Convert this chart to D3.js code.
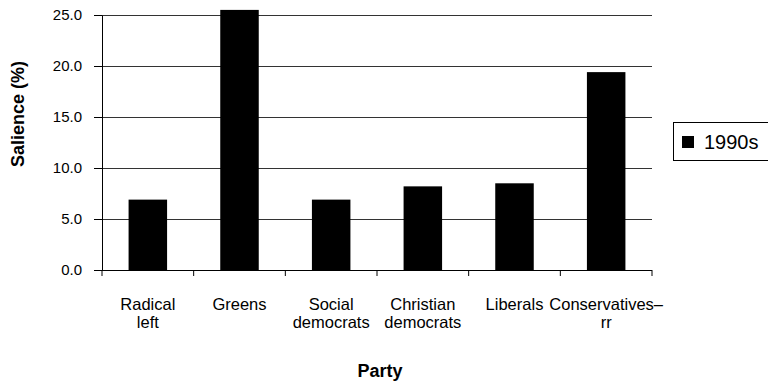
<!DOCTYPE html>
<html>
<head>
<meta charset="utf-8">
<script src="https://cdn.jsdelivr.net/npm/d3@7"></script>
<style>
  body { margin: 0; background: #fff; }
  svg { font-family: "Liberation Sans", Arial, sans-serif; }
</style>
</head>
<body>
<div id="chart"></div>
<script>
// data
var parties = ["Radical left", "Greens", "Social democrats", "Christian democrats", "Liberals", "Conservatives–rr"];
var labelLines = [["Radical", "left"], ["Greens"], ["Social", "democrats"], ["Christian", "democrats"], ["Liberals"], ["Conservatives–", "rr"]];
var salience1990s = [6.9, 25.5, 6.9, 8.2, 8.5, 19.4];
var yTicks = [0, 5, 10, 15, 20, 25];
var seriesName = "1990s";

var width = 768, height = 383;
var plot = {left: 102, right: 652, top: 15, bottom: 270};

const svg = d3.select("#chart")
    .append("svg")
    .attr("width", width)
    .attr("height", height);

var xScale = d3.scaleBand()
    .domain(parties)
    .range([plot.left, plot.right])
    .padding(0);

var yScale = d3.scaleLinear()
    .domain([0, 25])
    .range([plot.bottom, plot.top]);

// gridlines
svg.append("g")
    .selectAll("line")
    .data(yTicks.slice(1))
    .enter().append("line")
    .attr("x1", plot.left)
    .attr("x2", plot.right)
    .attr("y1", function(d) { return Math.round(yScale(d)) + 0.5 })
    .attr("y2", function(d) { return Math.round(yScale(d)) + 0.5 })
    .attr("stroke", "#333")
    .attr("stroke-width", 1);

// bars
var barW = xScale.step() * 0.42;
svg.append("g")
    .selectAll("rect")
    .data(salience1990s)
    .enter().append("rect")
    .attr("x", function(d, i) { return xScale(parties[i]) + (xScale.bandwidth() - barW) / 2 })
    .attr("y", function(d) { return yScale(d) })
    .attr("width", barW)
    .attr("height", function(d) { return yScale(0) - yScale(d) })
    .attr("fill", "#000");

// y axis
var yAxis = svg.append("g")
    .attr("transform", "translate(" + plot.left + ",0)")
    .call(d3.axisLeft(yScale).tickValues(yTicks).tickFormat(d3.format(".1f")).tickSize(8).tickSizeOuter(0));
yAxis.select(".domain").attr("stroke", "#000");
yAxis.selectAll(".tick line").attr("stroke", "#000");
yAxis.selectAll("text")
    .attr("x", -20)
    .style("font-size", "15px")
    .style("font-family", "Liberation Sans, Arial, sans-serif")
    .attr("fill", "#000");

// x axis
var xAxis = svg.append("g")
    .attr("transform", "translate(0," + plot.bottom + ")");
xAxis.append("line")
    .attr("x1", plot.left).attr("x2", plot.right)
    .attr("y1", 0.5).attr("y2", 0.5)
    .attr("stroke", "#000");
var bounds = parties.map(function(p) { return xScale(p) }).concat([plot.right]);
xAxis.selectAll(".xtick")
    .data(bounds)
    .enter().append("line")
    .attr("x1", function(d) { return d }).attr("x2", function(d) { return d })
    .attr("y1", 0).attr("y2", 6)
    .attr("stroke", "#000");

var labels = svg.append("g")
    .selectAll("text")
    .data(labelLines)
    .enter().append("text")
    .attr("x", function(d, i) { return xScale(parties[i]) + xScale.bandwidth() / 2 })
    .attr("y", 310)
    .attr("text-anchor", "middle")
    .style("font-size", "16.5px");
labels.selectAll("tspan")
    .data(function(d) { return d })
    .enter().append("tspan")
    .attr("x", function() { return this.parentNode.getAttribute("x") })
    .attr("dy", function(d, i) { return i === 0 ? 0 : 18 })
    .text(function(d) { return d });

// axis titles
svg.append("text")
    .attr("x", 380)
    .attr("y", 377)
    .attr("text-anchor", "middle")
    .style("font-size", "18px")
    .style("font-weight", "bold")
    .text("Party");

svg.append("text")
    .attr("transform", "translate(24,114) rotate(-90)")
    .attr("text-anchor", "middle")
    .style("font-size", "18px")
    .style("font-weight", "bold")
    .text("Salience (%)");

// legend
var legend = svg.append("g");
legend.append("rect")
    .attr("x", 673.5).attr("y", 122.5)
    .attr("width", 110).attr("height", 38)
    .attr("fill", "none")
    .attr("stroke", "#000");
legend.append("rect")
    .attr("x", 682).attr("y", 136)
    .attr("width", 12).attr("height", 12)
    .attr("fill", "#000");
legend.append("text")
    .attr("x", 704)
    .attr("y", 148.5)
    .style("font-size", "20px")
    .text(seriesName);
</script>
</body>
</html>
